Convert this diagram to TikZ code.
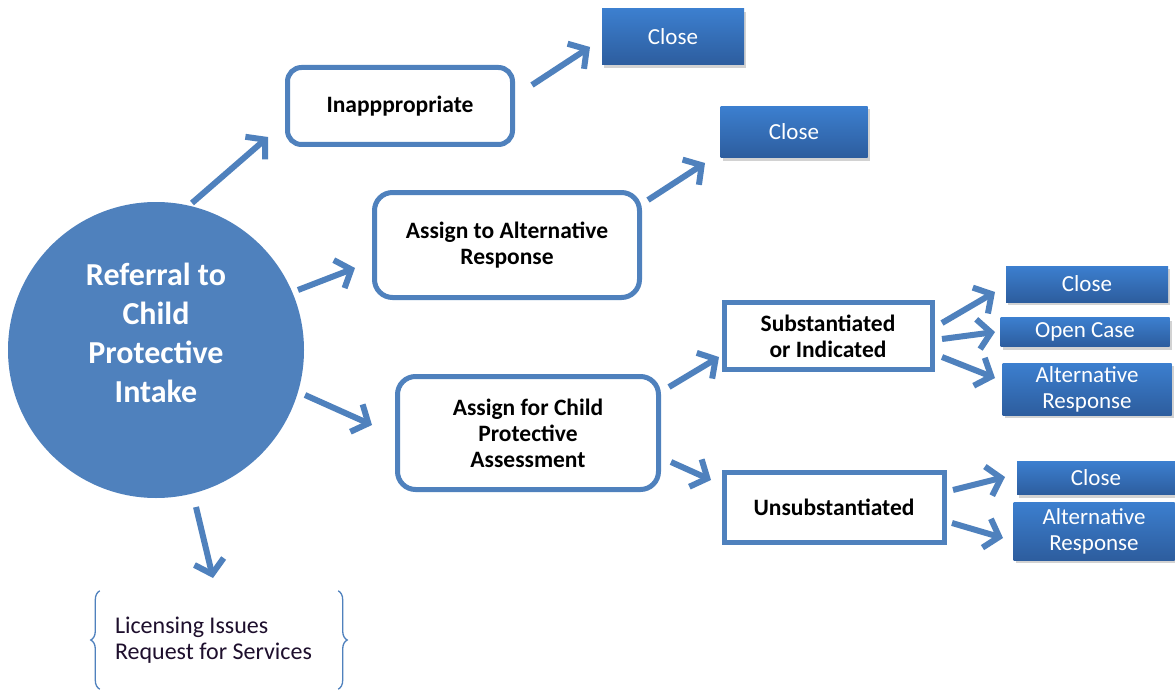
\documentclass[tikz,border=0pt]{standalone}
\usepackage{fontspec}
\setmainfont{Carlito}
\usetikzlibrary{arrows.meta,calc,shadows,decorations.pathreplacing}
\definecolor{accent}{RGB}{79,129,189}
\definecolor{gradtop}{RGB}{60,127,207}
\definecolor{gradbot}{RGB}{45,93,158}
\definecolor{brtext}{RGB}{30,15,45}
\begin{document}
\begin{tikzpicture}[x=1pt,y=-1pt,
 arr/.style={draw=accent, line width=6pt, -{Straight Barb[length=13pt,width=30pt]}},
 obox/.style={draw=accent, line width=5pt, fill=white, rounded corners=14pt, inner sep=0pt, align=center, font=\fontsize{23.5}{26}\selectfont\bfseries},
 sbox/.style={obox, rounded corners=0pt},
 cbox/.style={top color=gradtop, bottom color=gradbot, draw=none, text=white, inner sep=0pt, align=center, font=\fontsize{23}{26}\selectfont, drop shadow={opacity=0.35, shadow xshift=2pt, shadow yshift=-3pt}},
 brace/.style={draw=accent, line width=1.3pt, decorate, decoration={brace, amplitude=9pt}}
]
\fill[white] (0,0) rectangle (1175,690);
\useasboundingbox (0,0) rectangle (1175,690);

\node[circle, fill=accent, minimum size=296pt, inner sep=0pt,
  label={[text=white, align=center, yshift=17pt, font=\fontsize{32}{39}\selectfont\bfseries]center:Referral to\\Child\\Protective\\Intake}] (circ) at (156,350) {};

\node[obox, minimum width=225pt, minimum height=77pt] (inap) at (400,106) {Inapppropriate};
\node[obox, rounded corners=18pt, minimum width=265pt, minimum height=105pt] (alt) at (507,245) {Assign to Alternative\\Response};
\node[obox, rounded corners=18pt, minimum width=261pt, minimum height=113pt] (child) at (528,433) {Assign for Child\\Protective\\Assessment};
\node[sbox, minimum width=208pt, minimum height=67pt] (subst) at (828,336) {Substantiated\\or Indicated};
\node[sbox, minimum width=220pt, minimum height=70pt] (unsub) at (834,507) {Unsubstantiated};

\node[cbox, minimum width=142pt, minimum height=56pt] (close1) at (673,37) {Close};
\node[cbox, minimum width=147pt, minimum height=51pt] (close2) at (794,132) {Close};
\node[cbox, minimum width=162pt, minimum height=36pt] (close3) at (1087,284) {Close};
\node[cbox, minimum width=169pt, minimum height=29pt] (open) at (1085,332) {Open Case};
\node[cbox, minimum width=169pt, minimum height=52pt] (altr1) at (1087,389) {Alternative\\Response};
\node[cbox, minimum width=158pt, minimum height=33pt] (close4) at (1096,478) {Close};
\node[cbox, minimum width=161pt, minimum height=58pt] (altr2) at (1094,531) {Alternative\\Response};

\node[minimum width=238pt, minimum height=98pt, inner xsep=15pt, inner ysep=0pt, text width=208pt, align=flush left, text=brtext,
  font=\fontsize{24}{26}\selectfont] (svc) at (219,640) {Licensing Issues\\Request for Services};
\draw[brace] (svc.south west) -- (svc.north west);
\draw[brace] (svc.north east) -- (svc.south east);

\draw[arr] ([shift={(36,-147)}]circ.center) -- ([shift={(-132,31)}]inap.center);
\draw[arr] ([shift={(142,-60)}]circ.center) -- ([shift={(-152,23)}]alt.center);
\draw[arr] ([shift={(149,45)}]circ.center) -- ([shift={(-156,-8)}]child.center);
\draw[arr] ([shift={(40,157)}]circ.center) -- ([shift={(-6,-62)}]svc.center);

\draw[arr] ([shift={(132,-21)}]inap.center) -- ([shift={(-83,10)}]close1.center);
\draw[arr] ([shift={(141,-45)}]alt.center) -- ([shift={(-89,31)}]close2.center);

\draw[arr] ([shift={(141,-46)}]child.center) -- ([shift={(-109,21)}]subst.center);
\draw[arr] ([shift={(143,29)}]child.center) -- ([shift={(-123,-27)}]unsub.center);

\draw[arr] ([shift={(114,-13)}]subst.center) -- ([shift={(-92,8)}]close3.center);
\draw[arr] ([shift={(114,3)}]subst.center) -- ([shift={(-90,0)}]open.center);
\draw[arr] ([shift={(114,21)}]subst.center) -- ([shift={(-92,-11)}]altr1.center);

\draw[arr] ([shift={(119,-17)}]unsub.center) -- ([shift={(-91,-1)}]close4.center);
\draw[arr] ([shift={(118,16)}]unsub.center) -- ([shift={(-91,7)}]altr2.center);
\end{tikzpicture}
\end{document}
